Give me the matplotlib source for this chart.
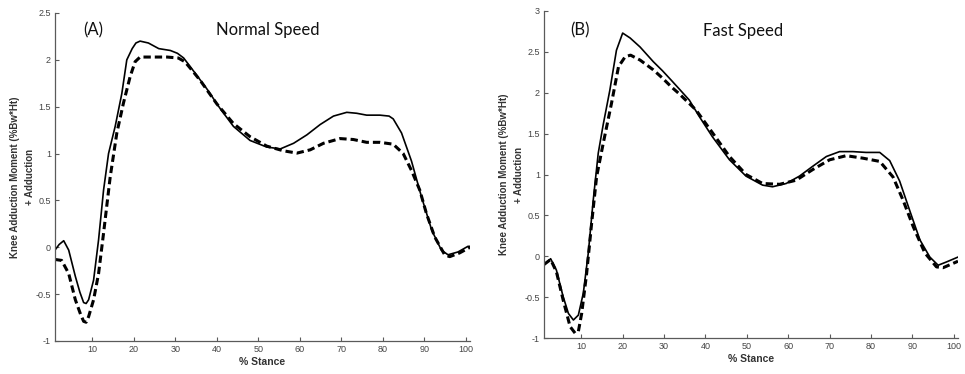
import matplotlib
matplotlib.use("Agg")
import matplotlib.pyplot as plt
from matplotlib.ticker import FormatStrFormatter

# ---- Data ----
a_solid_x = [1, 2, 3.1, 4.3, 5.9, 7.0, 7.9, 8.5, 9.1, 10.3, 11.5, 12.7, 13.9, 15.5, 17.1, 18.3, 19.6,
             20.5, 21.5, 23.5, 26, 28.8, 30.5, 32, 34.4, 37.6, 40.8, 44, 48, 52, 55.3, 58.5, 61.7,
             64.9, 68.1, 71.3, 73.7, 76.1, 79.3, 81.5, 82.5, 84.5, 86.9, 89.3, 91.8, 94.1, 95.7,
             98.1, 100.5, 101]
a_solid_y = [-0.03, 0.03, 0.07, -0.03, -0.31, -0.48, -0.59, -0.60, -0.56, -0.35, 0.08, 0.61, 1.0, 1.29,
             1.64, 2.0, 2.12, 2.18, 2.20, 2.18, 2.12, 2.10, 2.07, 2.02, 1.88, 1.69, 1.48, 1.29, 1.14,
             1.07, 1.05, 1.11, 1.20, 1.31, 1.40, 1.44, 1.43, 1.41, 1.41, 1.40, 1.37, 1.22, 0.92,
             0.54, 0.18, -0.03, -0.08, -0.05, 0.01, 0.01]

a_dash_x = [1, 2.6, 4.3, 5.9, 7.2, 7.9, 8.5, 9.1, 10.3, 11.5, 12.7, 14.3, 15.9, 17.5, 19.1, 20.3,
            21.5, 24.3, 28, 30.7, 32.3, 34, 36, 40, 44, 48, 52, 56, 59.3, 62.5, 65.7, 69.7, 72.9,
            76.1, 79.3, 82.5, 84.9, 86.9, 88.9, 90.5, 92.5, 94.9, 96.1, 98.5, 101]
a_dash_y = [-0.13, -0.14, -0.28, -0.56, -0.72, -0.79, -0.80, -0.74, -0.56, -0.28, 0.15, 0.75, 1.22,
            1.54, 1.82, 1.98, 2.03, 2.03, 2.03, 2.02, 1.98, 1.89, 1.78, 1.53, 1.32, 1.18, 1.08, 1.03,
            1.005, 1.04, 1.11, 1.16, 1.15, 1.12, 1.12, 1.10, 1.0, 0.82, 0.61, 0.36, 0.11, -0.08,
            -0.10, -0.06, 0.0]

b_solid_x = [1, 2.6, 4.0, 5.6, 6.9, 8.1, 9.3, 10.5, 11.7, 12.9, 14.1, 15.3, 16.9, 18.5, 20, 21.8,
             24.2, 27.4, 29.6, 31.8, 33.6, 36.1, 38.5, 41.7, 45.8, 49.8, 53.8, 56.2, 59.5, 62.7,
             65.9, 69.2, 72.4, 75.6, 78.8, 82.1, 84.5, 86.9, 89.4, 91.8, 94.2, 96.2, 98.2, 101]
b_solid_y = [-0.11, -0.03, -0.17, -0.49, -0.70, -0.78, -0.72, -0.45, 0.04, 0.69, 1.26, 1.61, 2.03,
             2.52, 2.73, 2.67, 2.56, 2.38, 2.27, 2.15, 2.05, 1.91, 1.71, 1.46, 1.18, 0.98, 0.87,
             0.85, 0.89, 0.98, 1.10, 1.22, 1.28, 1.28, 1.27, 1.27, 1.17, 0.92, 0.55, 0.20, -0.01,
             -0.11, -0.07, -0.01]

b_dash_x = [1, 2.6, 4.0, 5.6, 7.3, 8.5, 9.3, 10.1, 11.3, 12.5, 13.7, 15.3, 17.3, 19, 20.6, 21.9,
            24.2, 27.4, 29.6, 31.8, 33.6, 37.7, 41.7, 45.8, 49.8, 53.8, 57.9, 61.9, 65.9, 70, 74,
            78, 82.1, 85.3, 87.7, 90.2, 93, 95.8, 97.4, 100.6, 101]
b_dash_y = [-0.10, -0.04, -0.19, -0.53, -0.86, -0.94, -0.92, -0.70, -0.21, 0.40, 0.97, 1.38, 1.87,
            2.32, 2.44, 2.46, 2.40, 2.28, 2.18, 2.07, 1.99, 1.79, 1.51, 1.22, 1.0, 0.89, 0.88, 0.93,
            1.06, 1.18, 1.23, 1.20, 1.16, 0.97, 0.69, 0.36, 0.04, -0.13, -0.14, -0.07, -0.06]

x_ticks = [10, 20, 30, 40, 50, 60, 70, 80, 90, 100]
a_yticks = [-1, -0.5, 0, 0.5, 1, 1.5, 2, 2.5]
b_yticks = [-1, -0.5, 0, 0.5, 1, 1.5, 2, 2.5, 3]
panel_labels = ["(A)", "(B)"]
panel_titles = ["Normal Speed", "Fast Speed"]
ylabel = "Knee Adduction Moment (%Bw*Ht)\n+ Adduction"
xlabel = "% Stance"

W, H = 965, 374
fig = plt.figure(figsize=(W / 100, H / 100), dpi=100)

axA = fig.add_axes([55 / W, 1 - 341 / H, (470 - 55) / W, (341 - 13) / H])
axB = fig.add_axes([544 / W, 1 - 338 / H, (958 - 544) / W, (338 - 11) / H])

axis_col = "#5a5a5a"

def style(ax, yticks, ylim, title_pos, lbl_pos, lbl, title):
    ax.set_xlim(1, 101)
    ax.set_ylim(*ylim)
    ax.set_xticks(x_ticks)
    ax.set_yticks(yticks)
    ax.yaxis.set_major_formatter(FormatStrFormatter("%g"))
    for s in ["top", "right"]:
        ax.spines[s].set_visible(False)
    for s in ["left", "bottom"]:
        ax.spines[s].set_color(axis_col)
        ax.spines[s].set_linewidth(0.9)
    ax.tick_params(direction="in", length=3, width=0.8, color=axis_col,
                   labelcolor="#444444", labelsize=6.5, pad=3)
    for t in ax.get_xticklabels() + ax.get_yticklabels():
        t.set_family("Liberation Sans")
    ax.set_xlabel(xlabel, fontsize=7.5, fontweight="bold", family="Liberation Sans",
                  color="#333333", labelpad=2)
    ax.set_ylabel(ylabel, fontsize=7, fontweight="bold", family="Liberation Sans",
                  color="#333333", labelpad=0, linespacing=1.7)
    ax.text(lbl_pos[0], lbl_pos[1], lbl, transform=ax.transAxes, fontsize=12,
            family="Lato", ha="center", va="center", color="#111111")
    ax.text(title_pos[0], title_pos[1], title, transform=ax.transAxes, fontsize=12,
            family="Lato", ha="center", va="center", color="#111111")

axA.plot(a_solid_x, a_solid_y, color="black", lw=1.2, solid_joinstyle="round")
axA.plot(a_dash_x, a_dash_y, color="black", lw=2.2, dashes=(2.4, 1.3))
style(axA, a_yticks, (-1, 2.5), (0.513, 0.948), (0.092, 0.948), panel_labels[0], panel_titles[0])

axB.plot(b_solid_x, b_solid_y, color="black", lw=1.2, solid_joinstyle="round")
axB.plot(b_dash_x, b_dash_y, color="black", lw=2.2, dashes=(2.4, 1.3))
style(axB, b_yticks, (-1, 3), (0.48, 0.94), (0.087, 0.94), panel_labels[1], panel_titles[1])

fig.savefig("out.png", dpi=100, facecolor="white")
